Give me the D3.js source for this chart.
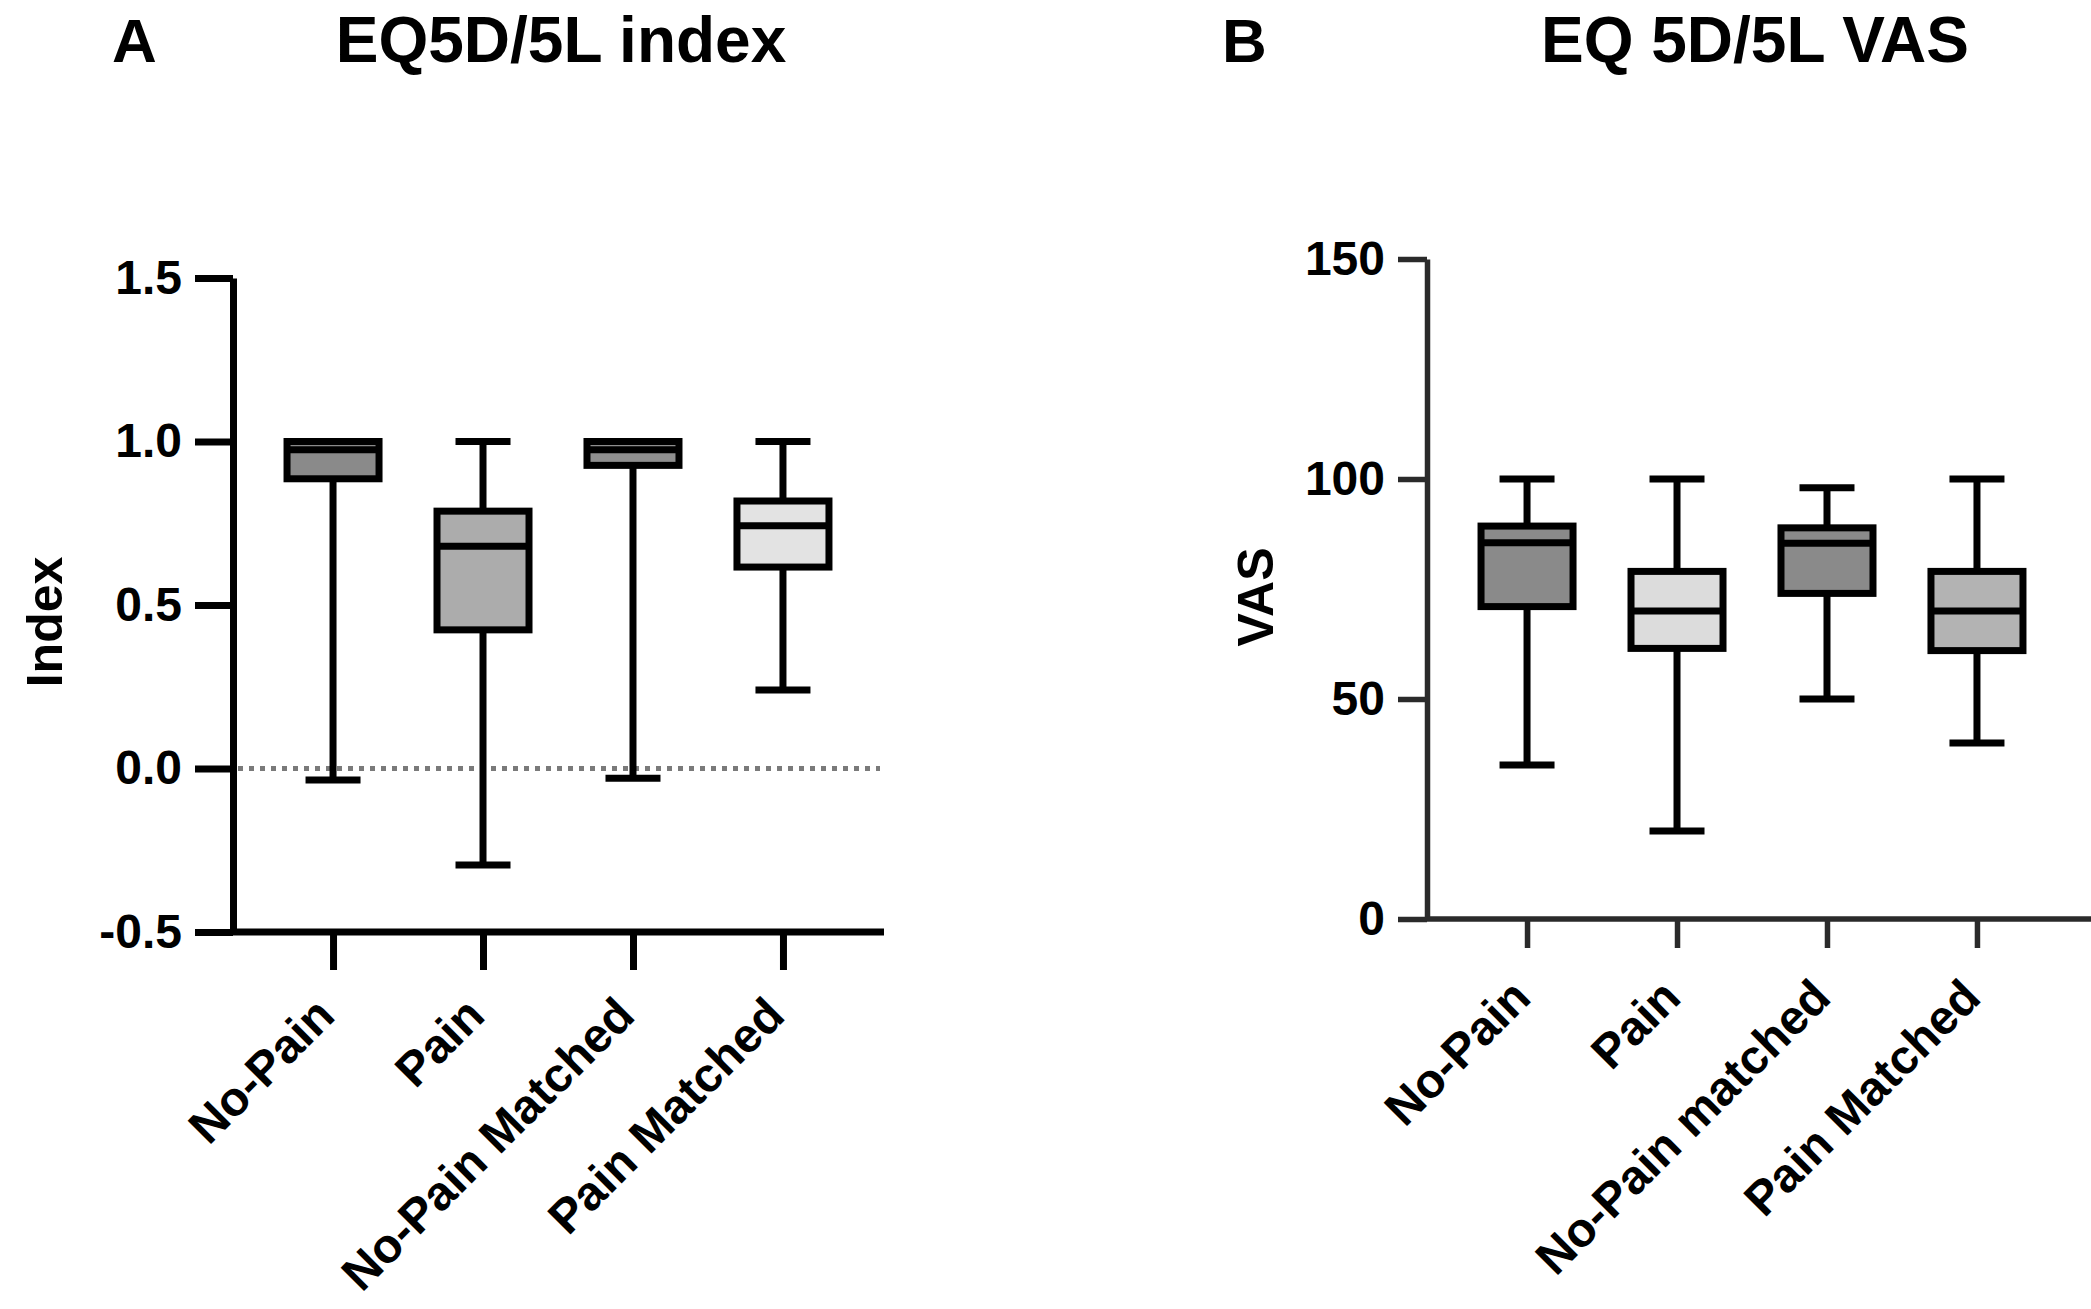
<!DOCTYPE html>
<html>
<head>
<meta charset="utf-8">
<script type="text/javascript" src="https://d3js.org/d3.v7.min.js"></script>
<style>
  body { margin: 0; background: #fff; }
  text { font-family: "Liberation Sans", Arial, sans-serif; font-weight: bold; fill: #000; }
</style>
</head>
<body>
<div id="chart"></div>
<script type="text/javascript">
  const w = 2091
  const h = 1309

  // panel A: EQ5D/5L index
  const categoriesA = ["No-Pain", "Pain", "No-Pain Matched", "Pain Matched"]
  const indexMin    = [-0.035, -0.295, -0.03, 0.24]
  const indexQ1     = [0.886, 0.424, 0.927, 0.616]
  const indexMedian = [0.975, 0.68, 0.975, 0.742]
  const indexQ3     = [1.0, 0.787, 1.0, 0.818]
  const indexMax    = [1.0, 1.0, 1.0, 1.0]
  const indexTicks  = [-0.5, 0.0, 0.5, 1.0, 1.5]

  // panel B: EQ 5D/5L VAS
  const categoriesB = ["No-Pain", "Pain", "No-Pain matched", "Pain Matched"]
  const vasMin    = [35, 20, 50, 40]
  const vasQ1     = [71, 61.5, 74, 61]
  const vasMedian = [85.5, 70, 85.4, 70]
  const vasQ3     = [89.3, 79, 88.9, 79]
  const vasMax    = [100, 100, 98, 100]
  const vasTicks  = [0, 50, 100, 150]

  const fillsA = ["#8a8a8a", "#acacac", "#8f8f8f", "#e3e3e3"]
  const fillsB = ["#8a8a8a", "#dcdcdc", "#8a8a8a", "#b3b3b3"]

  const svg = d3.select("#chart")
    .append("svg")
    .attr("width", w)
    .attr("height", h)
    .attr("viewBox", [0, 0, w, h])

  svg.append("rect").attr("width", w).attr("height", h).attr("fill", "#fff")

  function toRows(cats, mins, q1s, meds, q3s, maxs) {
    return cats.map((c, i) => ({cat: c, min: mins[i], q1: q1s[i], med: meds[i], q3: q3s[i], max: maxs[i]}))
  }

  function panel(opt) {
    const g = svg.append("g")
    const lw = 7

    const y = d3.scaleLinear().domain(opt.yDomain).range([opt.bottom, opt.top])
    const x = d3.scalePoint().domain(opt.rows.map(d => d.cat))
                .range([opt.left, opt.xEnd]).padding(0.667)

    // y axis
    const yAxis = g.append("g")
      .attr("transform", `translate(${opt.left},0)`)
      .call(d3.axisLeft(y).tickValues(opt.ticks).tickFormat(opt.fmt)
              .tickSize(opt.tickLen).tickSizeOuter(0).tickPadding(13))
    yAxis.selectAll("text").attr("font-size", "48px").attr("font-family", null)
    yAxis.selectAll("line, path").attr("stroke", opt.axisColor).attr("stroke-width", opt.axisWidth)

    // x axis
    const xAxis = g.append("g")
      .attr("transform", `translate(0,${opt.bottom})`)
      .call(d3.axisBottom(x).tickSize(opt.tickLen).tickSizeOuter(0).tickFormat(""))
    xAxis.select(".domain").attr("d", `M${opt.left},0H${opt.axisEnd}`)
    xAxis.selectAll("line, path").attr("stroke", opt.axisColor).attr("stroke-width", opt.axisWidth)

    // rotated category labels
    g.selectAll(".cat")
      .data(opt.rows)
      .enter().append("text")
        .attr("class", "cat")
        .attr("transform", d => `translate(${x(d.cat) + opt.labelDx},${opt.labelY}) rotate(-45)`)
        .attr("text-anchor", "end")
        .attr("font-size", "48px")
        .text(d => d.cat)

    if (opt.zeroLine) {
      g.append("line")
        .attr("x1", opt.left + 5).attr("x2", opt.zeroEnd)
        .attr("y1", y(0)).attr("y2", y(0))
        .attr("stroke", "#7a7a7a")
        .attr("stroke-width", 5)
        .attr("stroke-dasharray", "5 6")
    }

    const boxW = 92
    const capW = 55
    const box = g.selectAll(".box")
      .data(opt.rows)
      .enter().append("g")
        .attr("class", "box")

    // whiskers
    box.append("line")
      .attr("x1", d => x(d.cat)).attr("x2", d => x(d.cat))
      .attr("y1", d => y(d.max)).attr("y2", d => y(d.min))
      .attr("stroke", "#000").attr("stroke-width", lw)
    box.selectAll(".cap")
      .data(d => [d.min, d.max].map(v => ({cat: d.cat, v: v})))
      .enter().append("line")
        .attr("x1", d => x(d.cat) - capW / 2).attr("x2", d => x(d.cat) + capW / 2)
        .attr("y1", d => y(d.v)).attr("y2", d => y(d.v))
        .attr("stroke", "#000").attr("stroke-width", lw)

    box.append("rect")
      .attr("x", d => x(d.cat) - boxW / 2)
      .attr("width", boxW)
      .attr("y", d => y(d.q3))
      .attr("height", d => y(d.q1) - y(d.q3))
      .attr("fill", (d, i) => opt.fills[i])
      .attr("stroke", "#000").attr("stroke-width", lw)

    box.append("line")
      .attr("x1", d => x(d.cat) - boxW / 2).attr("x2", d => x(d.cat) + boxW / 2)
      .attr("y1", d => y(d.med)).attr("y2", d => y(d.med))
      .attr("stroke", "#000").attr("stroke-width", lw)

    // axis title
    g.append("text")
      .attr("transform", `translate(${opt.yLabelX},${opt.yLabelY}) rotate(-90)`)
      .attr("text-anchor", "middle")
      .attr("font-size", "50px")
      .text(opt.yLabel)

    // panel letter and title
    g.append("text")
      .attr("x", opt.letterX).attr("y", 62)
      .attr("font-size", "62px")
      .text(opt.letter)
    g.append("text")
      .attr("x", opt.titleX).attr("y", 62)
      .attr("text-anchor", "middle")
      .attr("font-size", "64px")
      .text(opt.title)
  }

  panel({
    rows: toRows(categoriesA, indexMin, indexQ1, indexMedian, indexQ3, indexMax),
    fills: fillsA,
    yDomain: [-0.5, 1.5], ticks: indexTicks, fmt: d => d.toFixed(1),
    left: 233, xEnd: 883, axisEnd: 884, top: 278, bottom: 932,
    tickLen: 38, axisColor: "#000", axisWidth: 7,
    labelDx: 4, labelY: 1018, zeroLine: true, zeroEnd: 880,
    yLabel: "Index", yLabelX: 62, yLabelY: 622,
    letter: "A", letterX: 112, title: "EQ5D/5L index", titleX: 561
  })

  panel({
    rows: toRows(categoriesB, vasMin, vasQ1, vasMedian, vasQ3, vasMax),
    fills: fillsB,
    yDomain: [0, 150], ticks: vasTicks, fmt: d => d,
    left: 1427, xEnd: 2077, axisEnd: 2091, top: 259, bottom: 919,
    tickLen: 29, axisColor: "#2a2a2a", axisWidth: 5.5,
    labelDx: 6, labelY: 1000, zeroLine: false,
    yLabel: "VAS", yLabelX: 1273, yLabelY: 597,
    letter: "B", letterX: 1222, title: "EQ 5D/5L VAS", titleX: 1755
  })
</script>
</body>
</html>
